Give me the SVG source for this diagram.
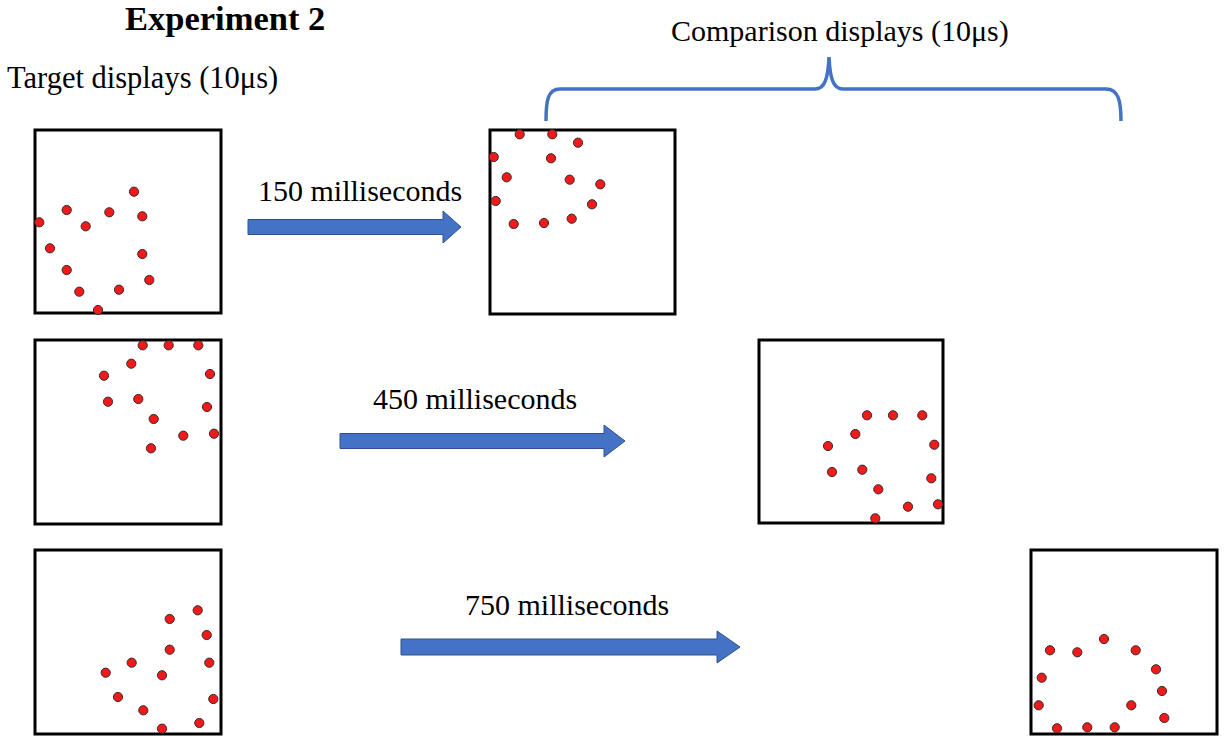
<svg xmlns="http://www.w3.org/2000/svg" width="1224" height="742" viewBox="0 0 1224 742">
<style>
.box{fill:#fff;stroke:#000;stroke-width:3}
.dot{fill:#f01a1a;stroke:#3a2a2a;stroke-width:1}
.lbl{font-family:"Liberation Serif","Times New Roman",serif;fill:#000}
.arr{fill:#4472c4;stroke:#2f528f;stroke-width:1}
.brace{fill:none;stroke:#4472c4;stroke-width:3.5}
</style>
<rect width="1224" height="742" fill="#fff"/>
<text class="lbl" x="125" y="30" font-size="34.5" font-weight="bold">Experiment 2</text>
<text class="lbl" x="7" y="88" font-size="30.5">Target displays (10μs)</text>
<text class="lbl" x="671" y="41" font-size="30">Comparison displays (10μs)</text>
<path class="brace" d="M546,121 C546,100 548,89 560,89 L815,89 C825,89 828,78 829,57 C830,78 833,89 843,89 L1106,89 C1118,89 1121,100 1121,121"/>

<g id="target1">
<rect class="box" x="35" y="130" width="186" height="183"/>
<circle class="dot" cx="134" cy="191.7" r="4.6"/>
<circle class="dot" cx="66.7" cy="210" r="4.6"/>
<circle class="dot" cx="109.3" cy="212.3" r="4.6"/>
<circle class="dot" cx="142.3" cy="216.3" r="4.6"/>
<circle class="dot" cx="39.3" cy="222.3" r="4.6"/>
<circle class="dot" cx="85.7" cy="226.3" r="4.6"/>
<circle class="dot" cx="50" cy="248.3" r="4.6"/>
<circle class="dot" cx="142.3" cy="254" r="4.6"/>
<circle class="dot" cx="66.7" cy="270" r="4.6"/>
<circle class="dot" cx="149.3" cy="280" r="4.6"/>
<circle class="dot" cx="79.3" cy="291.7" r="4.6"/>
<circle class="dot" cx="119" cy="289.7" r="4.6"/>
<circle class="dot" cx="98" cy="310" r="4.6"/>
</g>

<g id="comparison1">
<rect class="box" x="490" y="130" width="185" height="184"/>
<circle class="dot" cx="519.7" cy="134.3" r="4.6"/>
<circle class="dot" cx="552.3" cy="134.3" r="4.6"/>
<circle class="dot" cx="578" cy="142.7" r="4.6"/>
<circle class="dot" cx="493.7" cy="157" r="4.6"/>
<circle class="dot" cx="551" cy="158.3" r="4.6"/>
<circle class="dot" cx="506.7" cy="177.3" r="4.6"/>
<circle class="dot" cx="569.7" cy="179.7" r="4.6"/>
<circle class="dot" cx="600.3" cy="184.3" r="4.6"/>
<circle class="dot" cx="495.7" cy="201" r="4.6"/>
<circle class="dot" cx="592" cy="204.3" r="4.6"/>
<circle class="dot" cx="513.7" cy="224" r="4.6"/>
<circle class="dot" cx="544" cy="223" r="4.6"/>
<circle class="dot" cx="571.7" cy="218.7" r="4.6"/>
</g>

<g id="target2">
<rect class="box" x="35" y="340" width="186" height="184"/>
<circle class="dot" cx="142.7" cy="345.3" r="4.6"/>
<circle class="dot" cx="168.7" cy="345.3" r="4.6"/>
<circle class="dot" cx="198.3" cy="345.3" r="4.6"/>
<circle class="dot" cx="131.3" cy="363.7" r="4.6"/>
<circle class="dot" cx="104" cy="375.7" r="4.6"/>
<circle class="dot" cx="210" cy="374" r="4.6"/>
<circle class="dot" cx="108" cy="401.7" r="4.6"/>
<circle class="dot" cx="138.3" cy="399" r="4.6"/>
<circle class="dot" cx="207" cy="407" r="4.6"/>
<circle class="dot" cx="153.7" cy="419" r="4.6"/>
<circle class="dot" cx="183.3" cy="435.7" r="4.6"/>
<circle class="dot" cx="214" cy="433.7" r="4.6"/>
<circle class="dot" cx="151" cy="448.3" r="4.6"/>
</g>

<g id="comparison2">
<rect class="box" x="759" y="340" width="184" height="183"/>
<circle class="dot" cx="867" cy="415.3" r="4.6"/>
<circle class="dot" cx="893" cy="415.3" r="4.6"/>
<circle class="dot" cx="922.3" cy="415.3" r="4.6"/>
<circle class="dot" cx="855.3" cy="434" r="4.6"/>
<circle class="dot" cx="828" cy="446" r="4.6"/>
<circle class="dot" cx="934.3" cy="444.7" r="4.6"/>
<circle class="dot" cx="832" cy="472" r="4.6"/>
<circle class="dot" cx="862.3" cy="469.7" r="4.6"/>
<circle class="dot" cx="931.3" cy="478.3" r="4.6"/>
<circle class="dot" cx="878.3" cy="489.3" r="4.6"/>
<circle class="dot" cx="908" cy="506.7" r="4.6"/>
<circle class="dot" cx="938" cy="504.3" r="4.6"/>
<circle class="dot" cx="875.3" cy="518.3" r="4.6"/>
</g>

<g id="target3">
<rect class="box" x="35" y="550" width="186" height="184"/>
<circle class="dot" cx="197.7" cy="610.3" r="4.6"/>
<circle class="dot" cx="169.7" cy="619" r="4.6"/>
<circle class="dot" cx="206.7" cy="635" r="4.6"/>
<circle class="dot" cx="169.7" cy="649.7" r="4.6"/>
<circle class="dot" cx="131.7" cy="662.7" r="4.6"/>
<circle class="dot" cx="209.3" cy="662.7" r="4.6"/>
<circle class="dot" cx="105.7" cy="672.7" r="4.6"/>
<circle class="dot" cx="162" cy="675.3" r="4.6"/>
<circle class="dot" cx="118" cy="697" r="4.6"/>
<circle class="dot" cx="213.3" cy="699" r="4.6"/>
<circle class="dot" cx="143.3" cy="710.3" r="4.6"/>
<circle class="dot" cx="199.3" cy="723" r="4.6"/>
<circle class="dot" cx="162" cy="728.7" r="4.6"/>
</g>

<g id="comparison3">
<rect class="box" x="1031" y="550" width="186" height="184"/>
<circle class="dot" cx="1104" cy="639" r="4.6"/>
<circle class="dot" cx="1050" cy="650.3" r="4.6"/>
<circle class="dot" cx="1077.3" cy="652.3" r="4.6"/>
<circle class="dot" cx="1135.7" cy="650.3" r="4.6"/>
<circle class="dot" cx="1156" cy="669.3" r="4.6"/>
<circle class="dot" cx="1041.7" cy="677.7" r="4.6"/>
<circle class="dot" cx="1162" cy="691" r="4.6"/>
<circle class="dot" cx="1038.7" cy="705.3" r="4.6"/>
<circle class="dot" cx="1131.3" cy="705.3" r="4.6"/>
<circle class="dot" cx="1164.3" cy="718" r="4.6"/>
<circle class="dot" cx="1057" cy="728.3" r="4.6"/>
<circle class="dot" cx="1087.3" cy="727.3" r="4.6"/>
<circle class="dot" cx="1114.7" cy="727.3" r="4.6"/>
</g>

<g id="connectors">
<path class="arr" d="M248,219.5 L443,219.5 L443,211 L461,227 L443,243 L443,234.5 L248,234.5 Z"/>
<text class="lbl" x="258" y="201" font-size="30">150 milliseconds</text>
<path class="arr" d="M340,433.5 L604,433.5 L604,425 L625,441 L604,457 L604,448.5 L340,448.5 Z"/>
<text class="lbl" x="373" y="409" font-size="30">450 milliseconds</text>
<path class="arr" d="M401,639 L717,639 L717,631 L740,647 L717,663 L717,655 L401,655 Z"/>
<text class="lbl" x="465" y="615" font-size="30">750 milliseconds</text>
</g>
</svg>
